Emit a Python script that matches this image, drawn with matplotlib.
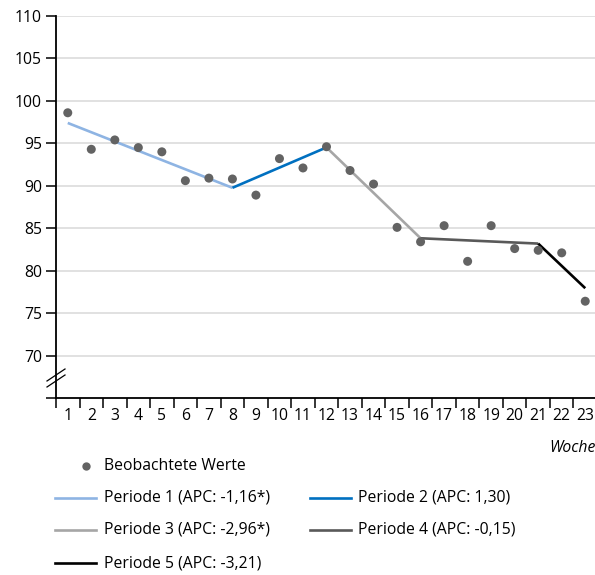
import numpy as np
import matplotlib
matplotlib.use("Agg")
import matplotlib.pyplot as plt
from matplotlib.lines import Line2D

plt.rcParams['font.family'] = ['Open Sans', 'DejaVu Sans']

# Weekly observed values
weeks = list(range(1, 24))
observed = [98.6, 94.3, 95.4, 94.5, 94.0, 90.6, 90.9, 90.8, 88.9, 93.2,
            92.1, 94.6, 91.8, 90.2, 85.1, 83.4, 85.3, 81.1, 85.3, 82.6,
            82.4, 82.1, 76.4]

# Joinpoint model: segment boundaries (weeks), start value and APC per segment
joinpoints = [1, 8, 12, 16, 21, 23]
start_value = 97.4
apc = [-1.16, 1.30, -2.96, -0.15, -3.21]
period_labels = ["Periode 1 (APC: -1,16*)", "Periode 2 (APC: 1,30)",
                 "Periode 3 (APC: -2,96*)", "Periode 4 (APC: -0,15)",
                 "Periode 5 (APC: -3,21)"]
period_colors = ["#8eb4e3", "#0070c0", "#a6a6a6", "#595959", "#000000"]

y_ticks = [65, 70, 75, 80, 85, 90, 95, 100, 105, 110]

FS = 11.3

fig = plt.figure(figsize=(5.95, 5.75), dpi=100)
ax = fig.add_axes([56 / 595, 1 - 398 / 575, (597 - 56) / 595, (398 - 16) / 575])

# Fitted segments from the APC values
segments = []
v = start_value
for i, rate in enumerate(apc):
    x0, x1 = joinpoints[i], joinpoints[i + 1]
    xs = np.array([x0, x1], dtype=float)
    ys = v * (1 + rate / 100.0) ** (xs - x0)
    segments.append((xs, ys))
    v = ys[-1]

for (xs, ys), col in zip(segments, period_colors):
    ax.plot(xs, ys, color=col, lw=1.9, solid_capstyle='butt', zorder=3)

ax.scatter(weeks, observed, s=42, color="#636363", edgecolors='none', zorder=4)

ax.set_xlim(0.5, 23.5)
ax.set_ylim(65, 110)

# Horizontal grid
for yv in y_ticks[1:]:
    ax.axhline(yv, color="#d9d9d9", lw=1.1, zorder=1)

ax.set_yticks(y_ticks)
ax.set_yticklabels([""] + [str(t) for t in y_ticks[1:]])
ax.tick_params(axis='y', direction='out', length=7, width=1.1, labelsize=FS,
               pad=3, colors='black')

ax.set_xticks(np.arange(0.5, 24, 1.0))
ax.set_xticklabels([])
ax.set_xticks(weeks, minor=True)
ax.set_xticklabels([str(w) for w in weeks], minor=True)
ax.tick_params(axis='x', which='major', direction='out', length=7, width=1.1)
ax.tick_params(axis='x', which='minor', length=0, labelsize=FS, pad=7)

for side in ['top', 'right']:
    ax.spines[side].set_visible(False)
for side in ['left', 'bottom']:
    ax.spines[side].set_linewidth(1.3)
ax.spines['left'].set_zorder(5)

# Axis break marks on the y axis
for dy in (0, 6):
    fig.add_artist(Line2D([47 / 595, 65 / 595],
                          [1 - (387 - dy) / 575, 1 - (375 - dy) / 575],
                          color='black', lw=0.9))

fig.text(596 / 595, 1 - 448 / 575, "Woche", ha='right', va='center',
         fontsize=FS, style='italic')

# Legend
def fy(py):
    return 1 - py / 575

fig.add_artist(Line2D([86 / 595], [fy(466)], marker='o', markersize=6,
                      color="#636363", markeredgewidth=0, linestyle='none'))
fig.text(104 / 595, fy(466), "Beobachtete Werte", va='center', fontsize=FS)

legend_pos = [(55, 104, 498), (310, 358, 498), (55, 104, 530),
              (310, 358, 530), (55, 104, 563)]
for (hx, tx, py), lab, col in zip(legend_pos, period_labels, period_colors):
    fig.add_artist(Line2D([hx / 595, (hx + 41) / 595], [fy(py), fy(py)],
                          color=col, lw=1.9))
    fig.text(tx / 595, fy(py), lab, va='center', fontsize=FS)

fig.savefig("out.png", dpi=100)
